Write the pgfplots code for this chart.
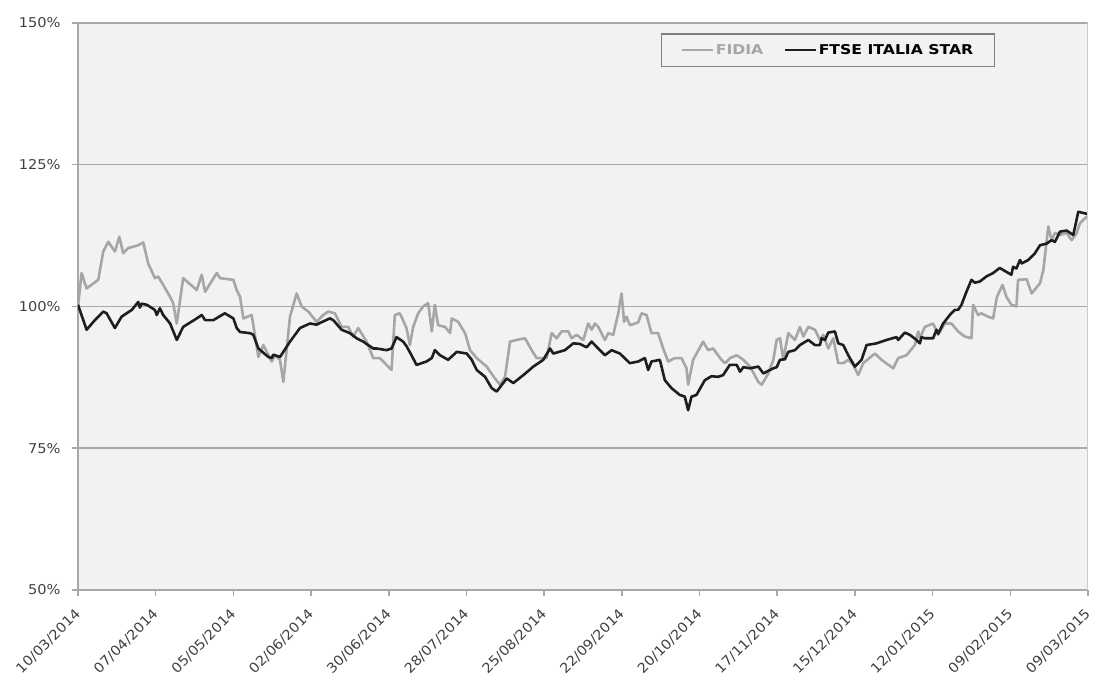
\documentclass[border=0pt]{standalone}
\usepackage{fontspec}
\setmainfont{DejaVu Sans}[FakeStretch=1.08]
\newfontfamily\legfont{DejaVu Sans}[FakeStretch=1.16]
\usepackage{pgfplots}
\pgfplotsset{compat=1.18}
\definecolor{fidia}{HTML}{A6A6A6}
\definecolor{ftse}{HTML}{1E1E1E}
\definecolor{gridc}{HTML}{A8A8A8}
\definecolor{bgc}{HTML}{F2F2F2}
\definecolor{lab}{HTML}{404040}
\definecolor{legc}{HTML}{808080}
\begin{document}
\begin{tikzpicture}[x=1pt,y=1pt]
\useasboundingbox (-78,-90) rectangle (1015,590);
\begin{axis}[
 at={(0,0)}, anchor=south west,
 scale only axis, width=1010pt, height=567pt,
 xmin=0, xmax=364, ymin=50, ymax=150,
 xtick={0,28,...,364},
 xticklabels={10/03/2014,07/04/2014,05/05/2014,02/06/2014,30/06/2014,28/07/2014,25/08/2014,22/09/2014,20/10/2014,17/11/2014,15/12/2014,12/01/2015,09/02/2015,09/03/2015},
 ytick={50,75,100,125,150},
 yticklabels={50\%,75\%,100\%,125\%,150\%},
 ymajorgrids, grid style={draw=gridc, line width=1.5pt},
 axis x line*=bottom, axis y line*=left,
 axis line style={draw=gridc, line width=1.5pt, -},
 tick align=outside, major tick length=6pt,
 tick style={draw=gridc, line width=1.5pt},
 axis background/.style={fill=bgc},
 tick label style={font=\fontsize{13.5}{16}\selectfont, text=lab},
 x tick label style={xshift=-4pt, yshift=-11.5pt, rotate=45, anchor=north east, inner sep=0pt},
 y tick label style={xshift=-8pt},
 legend style={at={(0.908,0.982)}, anchor=north east, draw=legc, line width=1.5pt, fill=bgc,
   font=\legfont\bfseries\fontsize{13.5}{16}\selectfont, legend columns=2,
   /tikz/every even column/.append style={column sep=18pt}, inner xsep=19pt, inner ysep=8.5pt},
 legend image code/.code={\draw[#1, line width=2.5pt] (0pt,0pt) -- (31pt,0pt);},
 legend cell align=left,
 after end axis/.code={\draw[gridc!60, line width=1pt] (rel axis cs:1,0) -- (rel axis cs:1,1);},
]
\addplot[fidia, line width=2.6pt, line join=round] coordinates {
(0,100.0) (1.3,105.9) (3.1,103.2) (7.3,104.7) (9.1,109.7) (10.9,111.4) (13.3,109.7) (14.9,112.3)
(16.3,109.4) (18.1,110.3) (21.7,110.8) (23.5,111.3) (25.3,107.6) (27.7,105.0) (28.9,105.3) (30.7,103.8)
(33.2,101.7) (34.3,100.6) (35.6,97.0) (37.9,105.0) (42.8,102.9) (44.6,105.6) (45.8,102.6) (50.0,105.9)
(51.2,105.0) (56.0,104.7) (57.2,102.9) (58.4,101.7) (59.6,97.9) (62.6,98.5) (65.0,91.1) (66.8,93.2)
(69.8,90.3) (71.0,91.4) (72.8,90.6) (74.0,86.7) (76.4,98.2) (78.8,102.3) (80.6,100.0) (83.0,99.1)
(86.0,97.3) (88.4,98.5) (90.2,99.1) (92.6,98.8) (95.0,96.4) (97.4,96.4) (99.2,94.7) (101.0,96.2)
(104.0,93.8) (106.4,90.9) (108.8,90.9) (111.2,89.7) (113.0,88.8) (114.2,98.5) (116.0,98.8) (118.4,96.2)
(119.6,93.2) (120.8,96.4) (122.6,98.8) (124.4,100.0) (126.2,100.6) (127.5,95.6) (128.6,100.3) (129.8,96.7)
(132.3,96.4) (134.1,95.3) (134.7,97.9) (137.0,97.3) (139.5,95.3) (141.3,92.3) (143.7,90.9) (147.3,89.4)
(150.3,87.3) (152.1,86.2) (153.9,87.6) (155.7,93.8) (158.1,94.1) (161.1,94.4) (163.5,92.3) (165.3,90.9)
(168.9,90.9) (170.7,95.3) (172.5,94.4) (174.3,95.6) (176.7,95.6) (177.9,94.4) (179.7,95.0) (182.1,94.1)
(183.9,97.0) (185.1,95.9) (186.3,97.0) (187.5,96.4) (189.9,94.1) (191.1,95.3) (192.9,95.0) (194.7,98.8)
(195.9,102.3) (196.8,97.3) (197.7,98.2) (198.9,96.7) (201.9,97.2) (203.1,98.8) (204.9,98.5) (206.7,95.3)
(209.1,95.3) (210.9,92.6) (212.7,90.3) (215.1,90.9) (217.5,90.9) (219.3,89.1) (219.9,86.2) (221.7,90.6)
(225.3,93.8) (227.1,92.3) (228.9,92.6) (231.9,90.6) (233.2,90.0) (235.0,90.9) (237.4,91.4) (239.8,90.6)
(242.2,89.4) (245.2,86.7) (246.4,86.2) (248.8,88.2) (250.6,90.6) (251.8,94.1) (253.0,94.4) (254.2,90.6)
(256.0,95.3) (258.4,94.1) (260.2,96.4) (261.4,94.7) (263.2,96.4) (265.6,95.9) (267.4,94.1) (268.6,95.0)
(270.4,92.6) (272.2,94.4) (274.0,90.0) (275.8,90.0) (277.6,90.6) (279.4,89.7) (281.2,87.9) (283.0,90.0)
(287.2,91.7) (289.6,90.6) (293.8,89.1) (295.6,90.9) (298.6,91.4) (301.6,93.2) (302.8,95.6) (303.4,94.4)
(305.2,96.4) (308.2,97.0) (310.0,95.0) (312.4,97.0) (314.8,97.0) (317.2,95.6) (319.6,94.7) (322.0,94.4)
(322.6,100.3) (324.4,98.5) (325.6,98.8) (328.0,98.2) (329.8,97.9) (331.2,101.7) (333.2,103.8) (334.6,101.7)
(336.4,100.3) (338.2,100.0) (338.8,104.7) (341.9,104.8) (343.7,102.3) (346.7,104.1) (347.9,106.4) (349.7,114.1)
(350.9,111.7) (352.1,113.0) (353.9,112.6) (356.3,113.0) (358.1,111.7) (359.9,112.9) (361.1,114.7) (363.5,115.8)
(364,115.5)
};
\addlegendentry{\textcolor{fidia}{FIDIA}}
\addplot[ftse, line width=2.6pt, line join=round] coordinates {
(0,100.3) (3.1,95.9) (6.1,97.6) (9.1,99.1) (10.3,98.8) (13.3,96.2) (15.7,98.2) (16.9,98.6)
(19.4,99.4) (21.7,100.8) (22.3,99.8) (22.9,100.5) (24.8,100.3) (27.7,99.4) (28.4,98.5) (29.5,99.7)
(30.7,98.5) (33.2,97.0) (35.6,94.1) (37.9,96.4) (42.8,97.9) (44.6,98.5) (45.8,97.6) (48.8,97.6)
(52.9,98.8) (56.0,97.9) (57.2,96.2) (58.4,95.5) (62.0,95.3) (63.2,95.0) (65.0,92.6) (68.6,91.1)
(69.8,90.9) (70.4,91.5) (72.8,91.1) (76.4,93.8) (80.0,96.2) (83.6,97.0) (86.0,96.8) (87.2,97.1)
(90.8,97.9) (92.0,97.6) (95.0,95.9) (98.0,95.3) (100.4,94.4) (102.8,93.8) (106.4,92.6) (107.6,92.6)
(111.2,92.3) (113.0,92.6) (114.8,94.6) (117.2,93.8) (118.4,93.0) (120.2,91.4) (122.0,89.7) (125.6,90.3)
(127.5,90.9) (128.6,92.3) (130.5,91.4) (133.4,90.6) (136.5,92.0) (140.1,91.7) (141.9,90.6) (143.7,88.8)
(146.7,87.6) (149.1,85.6) (150.9,85.0) (154.5,87.3) (156.9,86.5) (160.5,87.9) (164.1,89.4) (167.7,90.6)
(170.1,92.6) (171.3,91.7) (175.5,92.3) (178.5,93.5) (180.9,93.4) (183.3,92.8) (185.1,93.8) (187.5,92.6)
(189.9,91.4) (192.3,92.3) (195.3,91.7) (198.9,90.0) (201.9,90.3) (204.3,90.9) (205.5,88.8) (206.7,90.3)
(209.7,90.6) (211.5,87.0) (213.9,85.6) (216.9,84.4) (218.7,84.1) (219.9,81.7) (221.1,84.1) (222.9,84.4)
(225.9,87.0) (228.3,87.7) (230.7,87.6) (232.5,87.9) (234.9,89.7) (237.4,89.7) (238.6,88.5) (239.8,89.3)
(242.2,89.1) (245.2,89.4) (247.0,88.2) (250.6,89.1) (251.8,89.3) (253.0,90.6) (254.8,90.7) (256.0,92.0)
(258.4,92.3) (260.2,93.2) (263.2,94.1) (265.6,93.2) (267.4,93.2) (268.0,94.4) (269.2,94.1) (270.4,95.4)
(272.8,95.6) (274.0,93.5) (275.8,93.2) (277.6,91.4) (280.0,89.4) (282.4,90.6) (284.2,93.2) (287.8,93.5)
(291.4,94.1) (295.0,94.6) (295.6,94.1) (298.0,95.4) (299.8,95.0) (302.2,94.1) (303.4,93.5) (304.0,94.6)
(305.2,94.4) (308.2,94.4) (309.4,95.9) (310.0,95.2) (311.8,97.0) (314.2,98.5) (316.0,99.4) (317.2,99.4)
(318.4,100.3) (320.2,102.6) (322.0,104.7) (323.2,104.2) (325.0,104.4) (327.4,105.3) (329.8,105.9) (332.2,106.8)
(334.6,106.1) (336.4,105.6) (337.0,107.0) (338.2,106.7) (339.5,108.2) (340.1,107.6) (342.5,108.2) (344.9,109.4)
(346.7,110.8) (349.1,111.1) (350.9,111.7) (352.1,111.4) (353.9,113.2) (356.3,113.4) (358.7,112.6) (360.5,116.7)
(364,116.3)
};
\addlegendentry{FTSE ITALIA STAR}
\end{axis}
\end{tikzpicture}
\end{document}
